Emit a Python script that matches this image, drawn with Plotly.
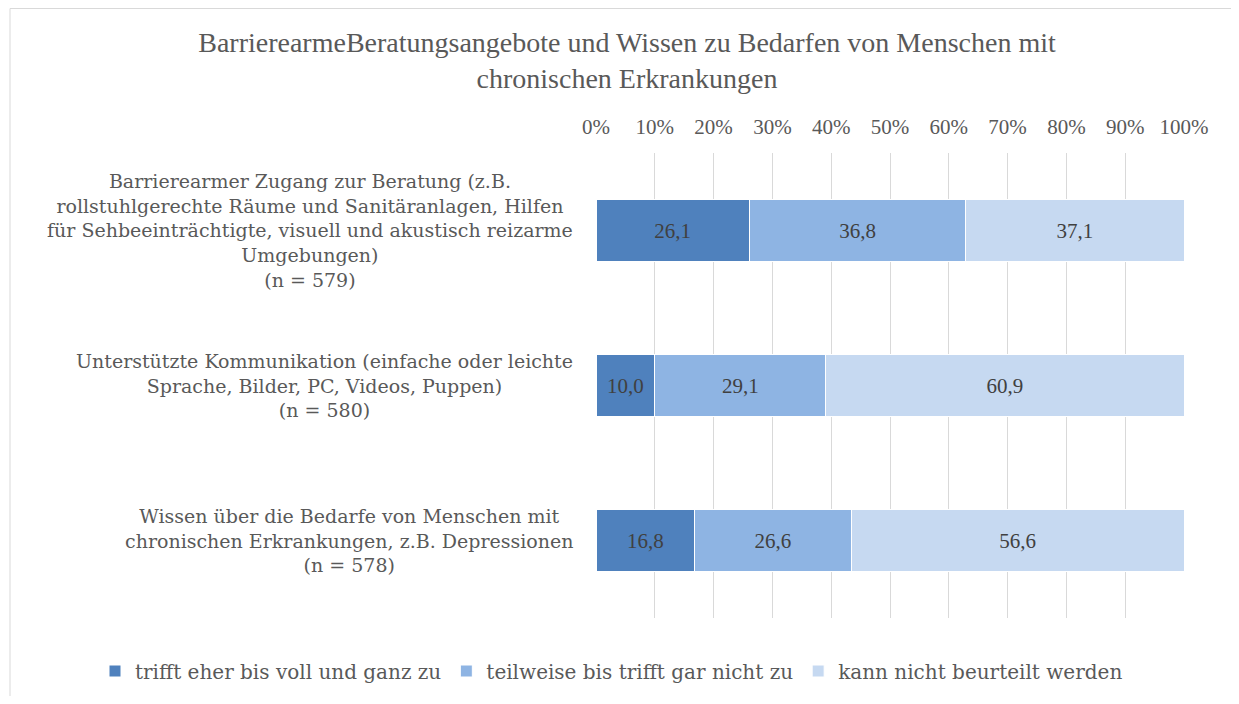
import plotly.graph_objects as go

categories = [
    "Barrierearmer Zugang zur Beratung (z.B.<br>rollstuhlgerechte Räume und Sanitäranlagen, Hilfen<br>für Sehbeeinträchtigte, visuell und akustisch reizarme<br>Umgebungen)<br>(n = 579)",
    "Unterstützte Kommunikation (einfache oder leichte<br>Sprache, Bilder, PC, Videos, Puppen)<br>(n = 580)",
    "Wissen über die Bedarfe von Menschen mit<br>chronischen Erkrankungen, z.B. Depressionen<br>(n = 578)",
]
cat_ids = ["c1", "c2", "c3"]
series_names = ["trifft eher bis voll und ganz zu", "teilweise bis trifft gar nicht zu", "kann nicht beurteilt werden"]
values_1 = [26.1, 10.0, 16.8]
values_2 = [36.8, 29.1, 26.6]
values_3 = [37.1, 60.9, 56.6]
colors = ["#4F81BD", "#8EB4E3", "#C6D9F1"]
tick_vals = [0, 10, 20, 30, 40, 50, 60, 70, 80, 90, 100]
tick_text = ["0%", "10%", "20%", "30%", "40%", "50%", "60%", "70%", "80%", "90%", "100%"]

SERIF = "Liberation Serif"
WIDE = "DejaVu Serif"
TXT = "#595959"

# page has an 8px body margin; figure coords = page coords - 8
OFF = 8
W, H = 1239 - 2 * OFF, 704 - 2 * OFF
L = 596 - OFF
T = 153 - OFF
R = W - (1184 - OFF)
B = H - (618 - OFF)
pw = W - L - R
ph = H - T - B

fig = go.Figure()
for name, vals, col in zip(series_names, [values_1, values_2, values_3], colors):
    fig.add_trace(go.Bar(
        y=cat_ids, x=vals, name=name, orientation="h",
        marker=dict(color=col, line=dict(color="white", width=1)),
        text=[f"{v:.1f}".replace(".", ",") for v in vals],
        textposition="inside", insidetextanchor="middle",
        textfont=dict(family=SERIF, size=21, color="#404040"),
        width=0.4,
    ))

for cid, label in zip(cat_ids, categories):
    fig.add_annotation(
        x=((575 - OFF) - L) / pw, xref="paper", xanchor="right",
        y=cid, yref="y", yanchor="middle",
        text=label, showarrow=False, align="center",
        font=dict(family=WIDE, size=19, color=TXT),
    )

# outer chart border
fig.add_shape(type="rect", xref="paper", yref="paper",
              x0=((10 - OFF) - L) / pw, x1=((1250 - OFF) - L) / pw,
              y0=-(H + 20 - (T + ph)) / ph, y1=(T + ph - 0.5) / ph,
              line=dict(color="#D9D9D9", width=1), fillcolor="rgba(0,0,0,0)", layer="below")

fig.update_layout(
    barmode="stack",
    width=W, height=H,
    margin=dict(l=L, r=R, t=T, b=B, autoexpand=False),
    paper_bgcolor="white", plot_bgcolor="white",
    title=dict(
        text="BarrierearmeBeratungsangebote und Wissen zu Bedarfen von Menschen mit<br>chronischen Erkrankungen",
        x=(627 - OFF) / W, xanchor="center", y=1 - (52 - OFF) / H, yanchor="middle",
        font=dict(family=SERIF, size=28, color=TXT),
    ),
    xaxis=dict(
        side="top", range=[0, 100], tickvals=tick_vals, ticktext=tick_text,
        showgrid=True, gridcolor="#D9D9D9", gridwidth=1, zeroline=False,
        tickfont=dict(family=SERIF, size=21, color=TXT), ticks="", showline=False,
        ticklabelstandoff=14,
    ),
    yaxis=dict(
        categoryorder="array", categoryarray=cat_ids, autorange=False,
        showticklabels=False, showgrid=False, zeroline=False, range=[2.5, -0.5],
    ),
    legend=dict(
        orientation="h", xref="paper", yref="paper",
        x=((95 - OFF) - L) / pw, xanchor="left",
        y=-((671 - OFF) - (T + ph)) / ph, yanchor="middle",
        font=dict(family=WIDE, size=20, color=TXT), traceorder="normal",
        itemwidth=30,
    ),
    showlegend=True,
)
fig.update_xaxes(automargin=False)
fig.update_yaxes(automargin=False)

fig.write_html("out.html")
